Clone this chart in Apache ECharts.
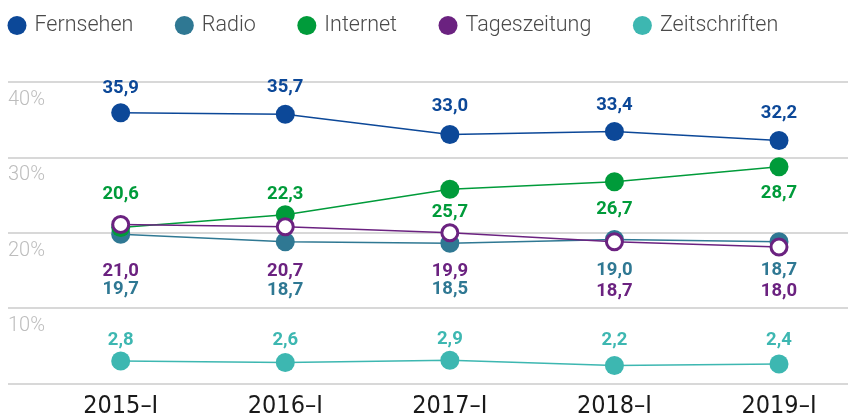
<!DOCTYPE html>
<html>
<head>
<meta charset="utf-8">
<script src="https://cdn.jsdelivr.net/npm/echarts@6/dist/echarts.min.js"></script>
<style>
html,body{margin:0;padding:0;background:#fff;}
#chart{width:848px;height:419px;}
</style>
</head>
<body>
<div id="chart"></div>
<script>
// values
var periods = ['2015–I', '2016–I', '2017–I', '2018–I', '2019–I'];
var fernsehen = [35.9, 35.7, 33.0, 33.4, 32.2];
var radio = [19.7, 18.7, 18.5, 19.0, 18.7];
var internet = [20.6, 22.3, 25.7, 26.7, 28.7];
var tageszeitung = [21.0, 20.7, 19.9, 18.7, 18.0];
var zeitschriften = [2.8, 2.6, 2.9, 2.2, 2.4];
var yTicks = [0, 10, 20, 30, 40];

// where each value label sits: [side, distance]
var fernsehenLbl = [['top', 5.5], ['top', 7.5], ['top', 9.5], ['top', 7.5], ['top', 8]];
var radioLbl = [['bottom', 36.5], ['bottom', 29.5], ['bottom', 27.5], ['bottom', 11.5], ['bottom', 9.5]];
var internetLbl = [['top', 14.5], ['top', 1.5], ['bottom', 4.5], ['bottom', 8.5], ['bottom', 7.5]];
var tagesLbl = [['bottom', 28], ['bottom', 25.5], ['bottom', 19.5], ['bottom', 30.5], ['bottom', 25.5]];
var zeitLbl = [['top', 2], ['top', 3.5], ['top', 1.5], ['top', 6.5], ['top', 5]];

var colors = {
	'Fernsehen': '#0c4898',
	'Radio': '#2f7893',
	'Internet': '#009b3a',
	'Tageszeitung': '#6b2280',
	'Zeitschriften': '#3db7b1'
};

function fmt(v){
	return v.toFixed(1).replace('.', ',');
}

function makeSeries(name, values, places, hollow){
	var c = colors[name];
	var data = [];
	for(var i = 0; i < values.length; i++){
		data.push({
			value: values[i],
			label: {position: places[i][0], distance: places[i][1]}
		});
	}
	return {
		name: name,
		type: 'line',
		xAxisIndex: 1,
		yAxisIndex: 1,
		symbol: 'circle',
		symbolSize: hollow ? 16 : 19,
		showAllSymbol: true,
		lineStyle: {color: c, width: 1.5},
		itemStyle: hollow ? {color: '#fff', borderColor: c, borderWidth: 3} : {color: c, borderWidth: 0},
		label: {
			show: true,
			color: c,
			fontFamily: 'Roboto',
			fontWeight: 'bold',
			fontSize: 18.5,
			formatter: function(p){ return fmt(p.value); }
		},
		emphasis: {disabled: true},
		data: data
	};
}

var chart = echarts.init(document.getElementById('chart'));
chart.setOption({
	animation: false,
	legend: {
		left: 7.5,
		top: 14.5,
		padding: 0,
		icon: 'circle',
		itemWidth: 19,
		itemHeight: 19,
		itemGap: 41.5,
		selectedMode: false,
		textStyle: {fontFamily: 'Roboto', fontWeight: 300, fontSize: 21.5, color: '#4a4a4a', padding: [0, 0, 0, 3]},
		data: [
			{name: 'Fernsehen'},
			{name: 'Radio'},
			{name: 'Internet'},
			{name: 'Tageszeitung', itemStyle: {color: colors['Tageszeitung'], borderWidth: 0}},
			{name: 'Zeitschriften'}
		]
	},
	grid: [
		{left: 8, right: 0, top: 82, bottom: 35.5},
		{left: 120.7, right: 69, top: 82, bottom: 35.5}
	],
	xAxis: [
		{gridIndex: 0, type: 'value', show: false, min: 0, max: 1},
		{
			gridIndex: 1,
			type: 'category',
			boundaryGap: false,
			data: periods,
			axisLine: {show: false},
			axisTick: {show: false},
			axisLabel: {
				margin: 12,
				color: '#1a1a1a',
				fontFamily: "'Liberation Sans Narrow', 'DejaVu Sans Condensed', sans-serif",
				fontSize: 25
			}
		}
	],
	yAxis: [
		{
			gridIndex: 0,
			type: 'value',
			min: yTicks[0],
			max: yTicks[yTicks.length - 1],
			interval: yTicks[1] - yTicks[0],
			axisLine: {show: false},
			axisTick: {show: false},
			splitLine: {lineStyle: {color: '#cbcbcb', width: 1.5}},
			axisLabel: {
				inside: true,
				margin: 0,
				verticalAlign: 'top',
				padding: [8, 0, 0, 0],
				color: '#bdbdbd',
				fontFamily: 'Roboto',
				fontWeight: 300,
				fontSize: 20,
				formatter: function(v){ return v ? v + '%' : ''; }
			}
		},
		{
			gridIndex: 1,
			type: 'value',
			min: yTicks[0],
			max: yTicks[yTicks.length - 1],
			interval: yTicks[1] - yTicks[0],
			show: false,
			splitLine: {show: false}
		}
	],
	series: [
		makeSeries('Zeitschriften', zeitschriften, zeitLbl, false),
		makeSeries('Radio', radio, radioLbl, false),
		makeSeries('Internet', internet, internetLbl, false),
		makeSeries('Fernsehen', fernsehen, fernsehenLbl, false),
		makeSeries('Tageszeitung', tageszeitung, tagesLbl, true)
	]
});
</script>
</body>
</html>
